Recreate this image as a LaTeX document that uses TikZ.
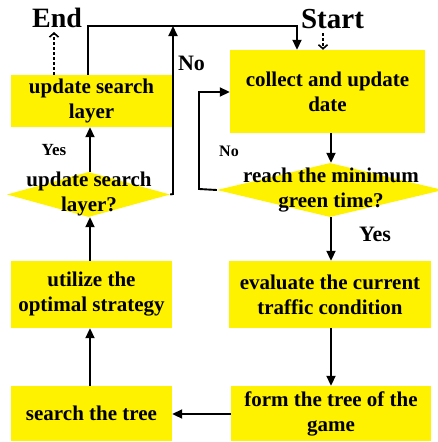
\documentclass[tikz,border=0pt]{standalone}
\usepackage{fontspec}
\setmainfont{Liberation Serif}
\usetikzlibrary{arrows.meta,shapes.geometric}
\begin{document}
\begin{tikzpicture}[x=1pt,y=-1pt,
  mainfont/.style={font=\bfseries\fontsize{21}{25}\selectfont},
  box/.style={fill=yellow,inner sep=0pt,align=center,mainfont},
  dia/.style={diamond,fill=yellow,inner sep=0pt},
  txt/.style={inner sep=0pt,align=center,mainfont},
  lbl/.style={inner sep=0pt,font=\bfseries\fontsize{#1}{#1}\selectfont},
  line/.style={line width=1.9pt},
  conn/.style={line width=1.9pt,-{Triangle[length=10pt,width=9pt]}},
  dotarr/.style={line width=1.6pt,dash pattern=on 3pt off 2pt,-{Straight Barb[length=4pt,width=9pt,line width=1.6pt]}}]
\useasboundingbox (0,0) rectangle (438,442);
\fill[white] (0,0) rectangle (438,442);

% left column
\node[box,minimum width=161pt,minimum height=52pt] (usl) at (91.5,101) {update search\\layer};
\node[dia,minimum width=163pt,minimum height=45pt] (dl) at (88.5,194.5) {};
\node[txt] (dlt) at (89,194) {update search\\layer?};
\node[box,minimum width=161pt,minimum height=67pt] (util) at (91.5,294.5) {utilize the\\optimal strategy};
\node[box,minimum width=161pt,minimum height=55pt] (search) at (91.5,413.5) {search the tree};

% right column
\node[box,minimum width=195pt,minimum height=83pt] (collect) at (327.5,91.5) {collect and update\\date};
\node[dia,minimum width=226pt,minimum height=54pt] (dr) at (330,190) {};
\node[txt] (drt) at (331,190) {reach the minimum\\green time?};
\node[box,minimum width=202pt,minimum height=67pt] (eval) at (330,294.5) {evaluate the current\\traffic condition};
\node[box,minimum width=200pt,minimum height=55pt] (form) at (331,413.5) {form the tree of the\\game};

% terminals and labels
\node[lbl=28] (endl) at (57,18) {End};
\node[lbl=29] (start) at (332.5,19) {Start};
\node[lbl=22] (no1) at (191.5,63) {No};
\node[lbl=17] (yes1) at (54,150) {Yes};
\node[lbl=16] (no2) at (229,151) {No};
\node[lbl=22] (yes2) at (375,234) {Yes};

% helper coordinates
\coordinate (topL) at (88,26);
\coordinate (topR) at (297,26);
\coordinate (noUp) at (173,26);
\coordinate (noCorner) at (173,194);
\coordinate (loopA) at (199,189);
\coordinate (loopB) at (199,92);

% connectors
\draw[dotarr] (323,33) -- (collect.north -| 323,0);
\draw[dotarr] (usl.north -| 54,0) -- (54,32);
\draw[conn] (collect.south -| 331,0) -- (dr.north -| 331,0);
\draw[conn] (dr.south -| 331,0) -- (eval.north -| 331,0);
\draw[conn] (eval.south -| 331,0) -- (form.north -| 331,0);
\draw[conn] (form.west |- 0,414) -- (search.east |- 0,414);
\draw[conn] (search.north -| 90,0) -- (util.south -| 90,0);
\draw[conn] (util.north -| 90,0) -- (dl.south -| 90,0);
\draw[conn] (dl.north -| 90,0) -- (usl.south -| 90,0);
\draw[conn] (dl.east) -- (noCorner) -- (noUp);
\draw[conn] (usl.north -| topL) -- (topL) -- (topR) -- (collect.north -| topR);
\draw[conn] (dr.west) -- (loopA) -- (loopB) -- (collect.west |- loopB);
\end{tikzpicture}
\end{document}
